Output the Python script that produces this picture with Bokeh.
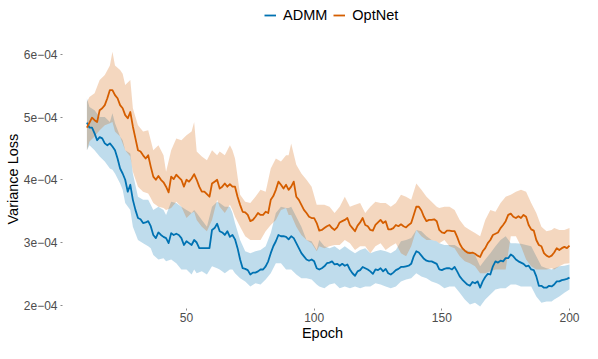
from bokeh.plotting import figure
from bokeh.models import ColumnDataSource, Range1d, FixedTicker, Legend, LegendItem, Title
from bokeh.embed import file_html
from bokeh.resources import INLINE

# ---------------- data (loss values in units of 1e-4) ----------------
UNIT = 1e-4
series_names = ["ADMM", "OptNet"]
series_colors = ["#0072B2", "#D55E00"]

epochs = list(range(11, 201))

admm_loss = [
    4.91, 4.83, 4.83, 4.74, 4.63, 4.68, 4.66, 4.58, 4.55, 4.58,
    4.53, 4.47, 4.34, 4.18, 4.10, 4.00, 3.81, 3.92, 3.68, 3.52,
    3.39, 3.37, 3.31, 3.32, 3.34, 3.26, 3.12, 3.07, 3.16, 3.12,
    3.09, 3.07, 2.99, 3.15, 3.12, 3.14, 3.12, 3.07, 2.96, 3.02,
    2.99, 2.96, 3.04, 3.00, 2.91, 2.91, 2.91, 2.91, 2.91, 3.20,
    3.23, 3.30, 3.18, 3.16, 3.12, 3.18, 3.09, 3.12, 3.05, 2.91,
    2.73, 2.59, 2.58, 2.56, 2.49, 2.52, 2.52, 2.54, 2.57, 2.57,
    2.62, 2.70, 2.83, 2.94, 3.02, 3.12, 3.10, 3.10, 3.09, 3.05,
    3.10, 3.07, 2.99, 2.91, 2.83, 2.78, 2.73, 2.71, 2.73, 2.70,
    2.59, 2.57, 2.59, 2.62, 2.67, 2.68, 2.70, 2.65, 2.66, 2.63,
    2.66, 2.63, 2.65, 2.57, 2.51, 2.47, 2.54, 2.56, 2.61, 2.59,
    2.57, 2.54, 2.50, 2.57, 2.56, 2.59, 2.54, 2.58, 2.51, 2.49,
    2.52, 2.56, 2.58, 2.61, 2.61, 2.62, 2.63, 2.66, 2.78, 2.86,
    2.84, 2.79, 2.74, 2.71, 2.70, 2.70, 2.68, 2.66, 2.57, 2.56,
    2.58, 2.59, 2.59, 2.57, 2.61, 2.54, 2.46, 2.41, 2.37, 2.33,
    2.31, 2.37, 2.35, 2.38, 2.28, 2.38, 2.45, 2.50, 2.49, 2.62,
    2.70, 2.68, 2.71, 2.70, 2.75, 2.75, 2.81, 2.78, 2.73, 2.70,
    2.68, 2.66, 2.62, 2.63, 2.57, 2.56, 2.46, 2.31, 2.31, 2.28,
    2.28, 2.31, 2.30, 2.33, 2.38, 2.38, 2.40, 2.41, 2.42, 2.44,
]

optnet_loss = [
    4.83, 4.91, 4.99, 4.95, 4.92, 5.11, 5.14, 5.19, 5.30, 5.43,
    5.43, 5.35, 5.30, 5.19, 5.14, 5.03, 4.98, 5.08, 4.85, 4.66,
    4.47, 4.45, 4.39, 4.34, 4.39, 4.21, 4.05, 4.00, 4.06, 4.00,
    3.96, 3.89, 3.80, 4.05, 4.01, 4.08, 4.04, 4.00, 3.89, 4.00,
    3.97, 4.02, 4.09, 4.00, 3.89, 3.81, 3.81, 3.77, 3.73, 3.94,
    3.97, 4.00, 3.86, 3.89, 3.94, 3.89, 3.93, 3.89, 3.89, 3.73,
    3.60, 3.49, 3.48, 3.44, 3.34, 3.36, 3.41, 3.47, 3.44, 3.44,
    3.49, 3.47, 3.68, 3.74, 3.84, 3.97, 3.92, 3.86, 3.92, 3.84,
    3.89, 3.97, 3.73, 3.68, 3.60, 3.52, 3.47, 3.41, 3.39, 3.39,
    3.31, 3.19, 3.20, 3.23, 3.26, 3.28, 3.23, 3.20, 3.24, 3.32,
    3.34, 3.36, 3.39, 3.28, 3.23, 3.18, 3.27, 3.32, 3.39, 3.28,
    3.26, 3.20, 3.19, 3.28, 3.32, 3.36, 3.31, 3.34, 3.21, 3.21,
    3.23, 3.28, 3.26, 3.29, 3.26, 3.24, 3.28, 3.31, 3.44, 3.57,
    3.57, 3.51, 3.41, 3.34, 3.36, 3.36, 3.37, 3.34, 3.20, 3.16,
    3.15, 3.19, 3.19, 3.18, 3.18, 3.09, 2.98, 2.91, 2.87, 2.84,
    2.83, 2.84, 2.82, 2.79, 2.77, 2.86, 2.91, 2.99, 3.04, 3.12,
    3.14, 3.16, 3.23, 3.28, 3.34, 3.44, 3.46, 3.41, 3.39, 3.42,
    3.39, 3.44, 3.41, 3.28, 3.21, 3.19, 3.04, 2.96, 2.94, 2.83,
    2.79, 2.77, 2.79, 2.84, 2.91, 2.88, 2.91, 2.93, 2.91, 2.95,
]

band_epochs = [
    11, 12, 14, 16, 18, 20, 21, 22, 24, 25, 26, 28, 29, 31, 33, 35, 36, 37, 39, 41,
    42, 44, 46, 48, 50, 52, 53, 54, 56, 58, 60, 62, 63, 65, 67, 68, 69, 71, 73, 75,
    77, 79, 81, 83, 85, 87, 89, 90, 91, 93, 95, 97, 99, 101, 102, 104,
    106, 108, 110, 112, 114, 116, 118, 120, 122, 124, 126, 128, 130, 132, 134, 136,
    138, 140, 142, 144, 146, 148, 149, 151, 153, 155, 157, 159, 161, 163, 165, 167,
    169, 171, 173, 175, 177, 179, 181, 183, 185, 187, 189, 191, 193, 194, 196, 198, 200,
]

admm_upper = [
    5.30, 5.16, 5.11, 5.00, 5.00, 4.92, 5.06, 4.90, 4.69, 4.63, 4.47, 4.42, 4.10, 3.73, 3.68, 3.68, 3.60, 3.52, 3.57, 3.52,
    3.44, 3.65, 3.63, 3.57, 3.52, 3.47, 3.52, 3.47, 3.36, 3.25, 3.57, 3.65, 3.63, 3.57, 3.57, 3.47, 3.31, 3.04, 2.86, 2.83,
    2.86, 2.88, 2.94, 3.15, 3.47, 3.57, 3.55, 3.55, 3.57, 3.41, 3.25, 3.04, 3.02, 2.88, 3.04, 2.94,
    2.91, 2.94, 2.88, 2.94, 2.88, 2.83, 2.88, 2.91, 2.83, 2.86, 2.88, 2.86, 2.83, 2.88, 3.02, 3.04,
    3.07, 3.20, 3.18, 3.10, 3.04, 3.02, 2.99, 2.96, 2.96, 2.96, 2.91, 2.88, 2.86, 2.80, 2.62, 2.73,
    2.83, 2.94, 3.04, 3.10, 2.99, 2.99, 2.98, 2.96, 2.94, 2.78, 2.62, 2.59, 2.57, 2.59, 2.62, 2.63, 2.65,
]
admm_lower = [
    4.47, 4.55, 4.47, 4.37, 4.29, 4.18, 4.16, 4.10, 3.94, 3.84, 3.63, 3.52, 3.25, 3.04, 2.99, 2.94, 2.91, 2.80, 2.73, 2.75,
    2.70, 2.73, 2.67, 2.57, 2.57, 2.49, 2.57, 2.51, 2.54, 2.49, 2.62, 2.59, 2.57, 2.51, 2.57, 2.57, 2.51, 2.43, 2.38, 2.30,
    2.35, 2.33, 2.41, 2.51, 2.67, 2.67, 2.57, 2.57, 2.57, 2.49, 2.43, 2.43, 2.41, 2.33, 2.30, 2.27,
    2.33, 2.35, 2.27, 2.30, 2.27, 2.30, 2.27, 2.30, 2.30, 2.35, 2.33, 2.30, 2.27, 2.30, 2.38, 2.41,
    2.43, 2.51, 2.46, 2.43, 2.38, 2.35, 2.33, 2.27, 2.30, 2.30, 2.20, 2.09, 2.01, 2.04, 1.98, 2.09,
    2.17, 2.25, 2.27, 2.27, 2.33, 2.33, 2.30, 2.30, 2.30, 2.14, 2.04, 2.06, 2.06, 2.09, 2.14, 2.20, 2.25,
]
optnet_upper = [
    5.24, 5.32, 5.38, 5.59, 5.67, 5.82, 6.04, 5.82, 5.75, 5.69, 5.51, 5.59, 5.14, 4.87, 4.77, 4.79, 4.63, 4.47, 4.55, 4.39,
    4.13, 4.47, 4.66, 4.63, 4.71, 4.77, 4.92, 4.45, 4.37, 4.31, 4.47, 4.39, 4.45, 4.39, 4.55, 4.47, 4.34, 3.76, 3.65, 3.63,
    3.73, 3.84, 3.81, 4.18, 4.34, 4.29, 4.39, 4.39, 4.58, 4.24, 4.10, 4.00, 3.89, 3.60, 3.60, 3.60,
    3.57, 3.47, 3.57, 3.73, 3.57, 3.60, 3.63, 3.47, 3.57, 3.65, 3.63, 3.63, 3.57, 3.63, 3.76, 3.73,
    3.68, 3.94, 3.84, 3.73, 3.65, 3.57, 3.55, 3.57, 3.57, 3.52, 3.36, 3.25, 3.20, 3.15, 3.10, 3.36,
    3.52, 3.49, 3.63, 3.73, 3.76, 3.81, 3.84, 3.81, 3.63, 3.47, 3.25, 3.18, 3.20, 3.23, 3.20, 3.20, 3.23,
]
optnet_lower = [
    4.47, 4.61, 4.69, 4.79, 4.87, 4.90, 4.92, 4.77, 4.69, 4.58, 4.47, 4.37, 4.13, 3.89, 3.81, 3.78, 3.71, 3.63, 3.57, 3.55,
    3.52, 3.55, 3.65, 3.57, 3.39, 3.47, 3.49, 3.36, 3.25, 3.18, 3.36, 3.68, 3.57, 3.47, 3.60, 3.52, 3.41, 3.25, 3.10, 3.04,
    3.04, 3.04, 3.18, 3.28, 3.36, 3.52, 3.55, 3.44, 3.44, 3.25, 3.12, 3.04, 2.99, 2.86, 2.94, 2.91,
    2.94, 2.96, 2.96, 3.04, 2.99, 2.88, 2.94, 2.94, 2.83, 2.94, 2.99, 2.88, 2.94, 2.99, 2.83, 2.78,
    2.94, 3.20, 3.10, 3.04, 3.04, 3.02, 2.99, 3.04, 2.94, 2.91, 2.78, 2.70, 2.67, 2.62, 2.51, 2.51,
    2.54, 2.57, 2.57, 2.57, 3.10, 3.10, 2.94, 2.73, 2.62, 2.57, 2.57, 2.57, 2.59, 2.57, 2.62, 2.66, 2.67,
]

x_ticks = [50, 100, 150, 200]
y_ticks = [2e-4, 3e-4, 4e-4, 5e-4, 6e-4]
y_tick_labels = ["2e\u221204", "3e\u221204", "4e\u221204", "5e\u221204", "6e\u221204"]
x_title = "Epoch"
y_title = "Variance Loss"

# ---------------- sources ----------------
line_src = ColumnDataSource(dict(
    epoch=epochs,
    admm=[v * UNIT for v in admm_loss],
    optnet=[v * UNIT for v in optnet_loss],
))
band_src = ColumnDataSource(dict(
    epoch=band_epochs,
    admm_lo=[v * UNIT for v in admm_lower],
    admm_hi=[v * UNIT for v in admm_upper],
    opt_lo=[v * UNIT for v in optnet_lower],
    opt_hi=[v * UNIT for v in optnet_upper],
))

# ---------------- figure ----------------
p = figure(width=582, height=343, output_backend="svg", toolbar_location=None,
           x_range=Range1d(1.44, 205.09), y_range=Range1d(1.948e-4, 6.858e-4),
           min_border_left=62, min_border_right=0, min_border_top=0, min_border_bottom=34)
p.outline_line_color = None
p.grid.visible = False
p.background_fill_color = "white"
p.border_fill_color = "white"

p.varea(x="epoch", y1="admm_lo", y2="admm_hi", source=band_src,
        fill_color=series_colors[0], fill_alpha=0.25)
p.varea(x="epoch", y1="opt_lo", y2="opt_hi", source=band_src,
        fill_color=series_colors[1], fill_alpha=0.25)
r_admm = p.line(x="epoch", y="admm", source=line_src, line_color=series_colors[0],
                line_width=1.8, line_join="round")
r_opt = p.line(x="epoch", y="optnet", source=line_src, line_color=series_colors[1],
               line_width=1.8, line_join="round")

for ax in (p.xaxis[0], p.yaxis[0]):
    ax.axis_line_color = None
    ax.minor_tick_line_color = None
    ax.major_tick_in = 0
    ax.major_tick_out = 2
    ax.major_tick_line_color = "#8a8a8a"
    ax.major_label_text_font = "Liberation Sans"
    ax.major_label_text_font_size = "12px"
    ax.major_label_text_color = "#4D4D4D"
    ax.axis_label_text_font = "Liberation Sans"
    ax.axis_label_text_font_size = "14.5px"
    ax.axis_label_text_font_style = "normal"
    ax.axis_label_text_color = "black"

p.xaxis.ticker = FixedTicker(ticks=x_ticks)
p.xaxis.major_label_standoff = 2
p.xaxis.axis_label = x_title
p.xaxis.axis_label_standoff = 0
p.yaxis.ticker = FixedTicker(ticks=y_ticks)
p.yaxis.major_label_overrides = dict(zip(y_ticks, y_tick_labels))
p.yaxis.major_label_standoff = 3

# y-axis title as a left-side title, positioned along the data area
p.add_layout(Title(text=y_title, align="left", offset=84, standoff=0,
                   text_font="Liberation Sans", text_font_size="14.5px",
                   text_font_style="normal", text_color="black"), "left")

legend = Legend(items=[LegendItem(label=series_names[0], renderers=[r_admm]),
                       LegendItem(label=series_names[1], renderers=[r_opt])],
                location=(202, 285), orientation="horizontal",
                glyph_width=12, glyph_height=16, label_height=16,
                label_standoff=7, spacing=6, padding=0, margin=0,
                border_line_color=None, background_fill_alpha=0,
                label_text_font="Liberation Sans", label_text_font_size="14.5px",
                label_text_color="black")
p.add_layout(legend)

open("out.html", "w").write(file_html(p, INLINE))
